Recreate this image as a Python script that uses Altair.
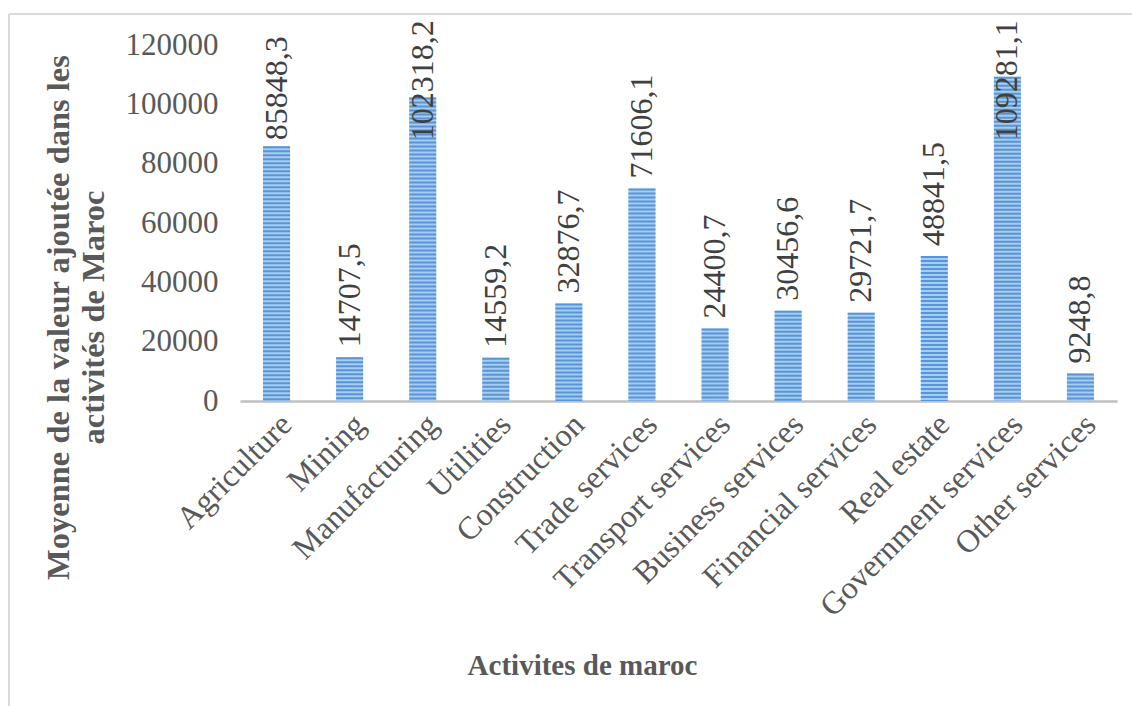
import altair as alt
import pandas as pd

# Mean value added by activity (Morocco)
activites = [
    "Agriculture", "Mining", "Manufacturing", "Utilities", "Construction",
    "Trade services", "Transport services", "Business services",
    "Financial services", "Real estate", "Government services", "Other services",
]
valeurs = [
    85848.3, 14707.5, 102318.2, 14559.2, 32876.7, 71606.1,
    24400.7, 30456.6, 29721.7, 48841.5, 109281.1, 9248.8,
]
etiquettes = [
    "85848,3", "14707,5", "102318,2", "14559,2", "32876,7", "71606,1",
    "24400,7", "30456,6", "29721,7", "48841,5", "109281,1", "9248,8",
]
y_ticks = [0, 20000, 40000, 60000, 80000, 100000, 120000]

df = pd.DataFrame({"activite": activites, "valeur": valeurs, "etiquette": etiquettes})

FONT = "Liberation Serif"
GREY = "#595959"

x_enc = alt.X(
    "activite:N",
    sort=activites,
    scale=alt.Scale(paddingInner=0, paddingOuter=0),
    axis=alt.Axis(
        title="Activites de maroc",
        labelAngle=-45,
        labelAlign="right",
        labelBaseline="middle",
        labelPadding=18,
        labelOffset=10,
        labelFont=FONT,
        labelFontSize=32,
        labelColor=GREY,
        labelLimit=400,
        ticks=False,
        domainColor="#bfbfbf",
        domainWidth=2.5,
        titleFont=FONT,
        titleFontSize=29,
        titleFontWeight="bold",
        titleColor=GREY,
        titleX=342,
        titleY=264,
        titleAlign="center",
        titleBaseline="middle",
    ),
)

y_enc = alt.Y(
    "valeur:Q",
    scale=alt.Scale(domain=[0, 120000], nice=False),
    axis=alt.Axis(
        values=y_ticks,
        format="d",
        domain=False,
        ticks=False,
        grid=False,
        labelPadding=22,
        labelFont=FONT,
        labelFontSize=31,
        labelColor=GREY,
        labelBaseline="middle",
        title=["Moyenne  de la valeur ajoutée dans les", "activités de Maroc"],
        titleFont=FONT,
        titleFontSize=32.5,
        titleFontWeight="bold",
        titleColor=GREY,
        titleAngle=270,
        titleAlign="center",
        titleBaseline="middle",
        titleLineHeight=35,
        titleX=-182,
        titleY=272,
    ),
)

base = alt.Chart(df)

# light body of each bar
bars = base.mark_bar(size=27, color="#a9cbee").encode(x=x_enc, y=y_enc)

# horizontal stripes drawn as a dashed, bar-wide rule over each bar
stripes = base.transform_calculate(zero="0").mark_rule(
    strokeWidth=27, strokeDash=[2, 2], strokeCap="butt", color="#5596d8"
).encode(
    x=alt.X("activite:N", sort=activites),
    y=alt.Y("valeur:Q"),
    y2=alt.Y2("zero:Q"),
)

# value labels, kept inside the frame for the tallest bars
labels = base.transform_calculate(
    pos="min(datum.valeur, 84500)"
).mark_text(
    angle=270, align="left", baseline="middle", dx=10,
    font=FONT, fontSize=32, color="#404040",
).encode(
    x=alt.X("activite:N", sort=activites),
    y=alt.Y("pos:Q"),
    text="etiquette:N",
)

# thin frame along the top and left of the chart
frame_df = pd.DataFrame({"k": [0]})
frame_top = alt.Chart(frame_df).mark_rule(color="#d9d9d9", strokeWidth=2).encode(
    x=alt.value(-231), x2=alt.value(900), y=alt.value(-31)
)
frame_left = alt.Chart(frame_df).mark_rule(color="#d9d9d9", strokeWidth=2).encode(
    x=alt.value(-231), y=alt.value(-31), y2=alt.value(670)
)

chart = alt.layer(bars, stripes, labels, frame_top, frame_left).properties(
    width=877,
    height=356,
    autosize=alt.AutoSizeParams(type="none"),
    padding={"left": 240, "top": 45, "right": 15, "bottom": 305},
).configure_view(strokeWidth=0)

chart.save("out.html", embed_options={"renderer": "svg", "actions": False})
